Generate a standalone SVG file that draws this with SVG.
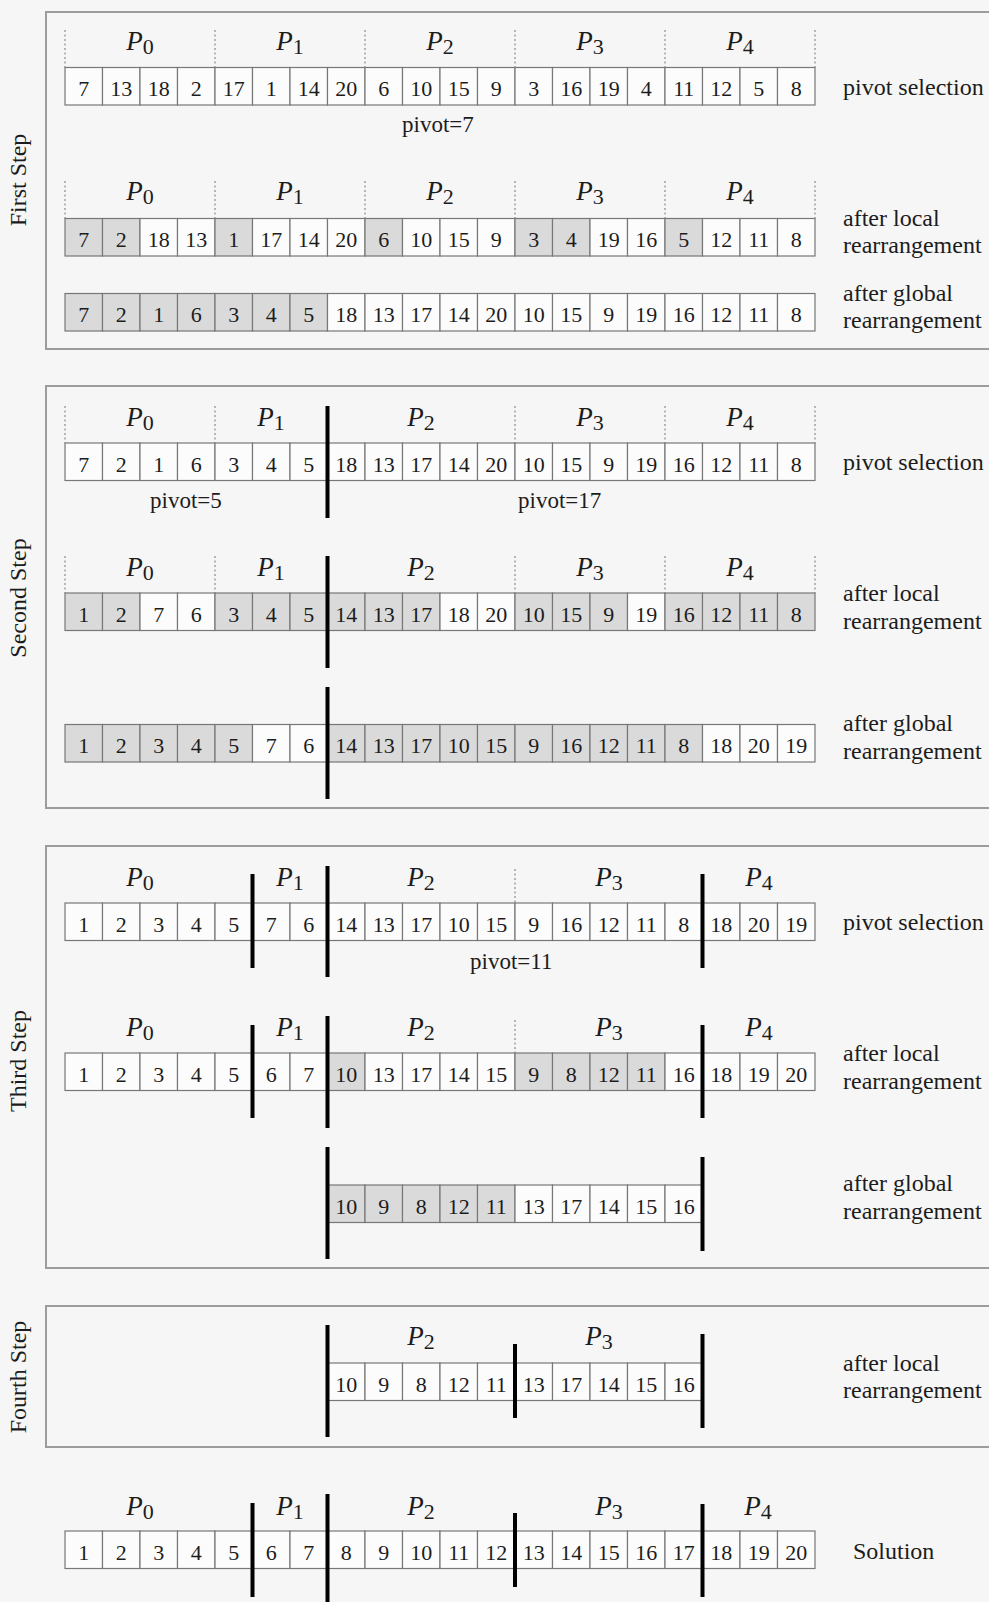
<svg xmlns="http://www.w3.org/2000/svg" width="989" height="1602" viewBox="0 0 989 1602">
<style>
text{font-family:"Liberation Serif","Times New Roman",serif;fill:#1c1c1c}
.frame{fill:none;stroke:#9c9c9c;stroke-width:2}
.c{fill:#fcfcfc;stroke:#777;stroke-width:1.2}
.g{fill:#dadada;stroke:#777;stroke-width:1.2}
.n{font-size:22px;text-anchor:middle}
.p{font-size:27px;font-style:italic;text-anchor:middle}
.p tspan{font-style:normal;font-size:22px}
.lbl{font-size:24px}
.piv{font-size:23px}
.side{font-size:24px;text-anchor:middle}
.dot{stroke:#8a8a8a;stroke-width:1.2;stroke-dasharray:2 2.5}
.bar{stroke:#000;stroke-width:4}
</style>
<rect x="0" y="0" width="989" height="1602" fill="#f6f6f6"/>

<g id="frames">
<rect class="frame" x="46" y="12" width="960" height="337"/>
<rect class="frame" x="46" y="386" width="960" height="422"/>
<rect class="frame" x="46" y="846" width="960" height="422"/>
<rect class="frame" x="46" y="1306" width="960" height="141"/>
</g>

<g id="side-labels">
<text class="side" transform="translate(26,180) rotate(-90)">First Step</text>
<text class="side" transform="translate(26,598) rotate(-90)">Second Step</text>
<text class="side" transform="translate(26,1061) rotate(-90)">Third Step</text>
<text class="side" transform="translate(26,1377) rotate(-90)">Fourth Step</text>
</g>

<!-- STEP 1 -->
<g id="s1r1" transform="translate(0,67.5)">
<rect class="c" x="65" y="0" width="37.5" height="37.5"/><rect class="c" x="102.5" y="0" width="37.5" height="37.5"/><rect class="c" x="140" y="0" width="37.5" height="37.5"/><rect class="c" x="177.5" y="0" width="37.5" height="37.5"/><rect class="c" x="215" y="0" width="37.5" height="37.5"/><rect class="c" x="252.5" y="0" width="37.5" height="37.5"/><rect class="c" x="290" y="0" width="37.5" height="37.5"/><rect class="c" x="327.5" y="0" width="37.5" height="37.5"/><rect class="c" x="365" y="0" width="37.5" height="37.5"/><rect class="c" x="402.5" y="0" width="37.5" height="37.5"/><rect class="c" x="440" y="0" width="37.5" height="37.5"/><rect class="c" x="477.5" y="0" width="37.5" height="37.5"/><rect class="c" x="515" y="0" width="37.5" height="37.5"/><rect class="c" x="552.5" y="0" width="37.5" height="37.5"/><rect class="c" x="590" y="0" width="37.5" height="37.5"/><rect class="c" x="627.5" y="0" width="37.5" height="37.5"/><rect class="c" x="665" y="0" width="37.5" height="37.5"/><rect class="c" x="702.5" y="0" width="37.5" height="37.5"/><rect class="c" x="740" y="0" width="37.5" height="37.5"/><rect class="c" x="777.5" y="0" width="37.5" height="37.5"/>
<text class="n" x="83.75" y="28.5">7</text><text class="n" x="121.25" y="28.5">13</text><text class="n" x="158.75" y="28.5">18</text><text class="n" x="196.25" y="28.5">2</text><text class="n" x="233.75" y="28.5">17</text><text class="n" x="271.25" y="28.5">1</text><text class="n" x="308.75" y="28.5">14</text><text class="n" x="346.25" y="28.5">20</text><text class="n" x="383.75" y="28.5">6</text><text class="n" x="421.25" y="28.5">10</text><text class="n" x="458.75" y="28.5">15</text><text class="n" x="496.25" y="28.5">9</text><text class="n" x="533.75" y="28.5">3</text><text class="n" x="571.25" y="28.5">16</text><text class="n" x="608.75" y="28.5">19</text><text class="n" x="646.25" y="28.5">4</text><text class="n" x="683.75" y="28.5">11</text><text class="n" x="721.25" y="28.5">12</text><text class="n" x="758.75" y="28.5">5</text><text class="n" x="796.25" y="28.5">8</text>
</g>
<g id="s1r2" transform="translate(0,218.5)">
<rect class="g" x="65" y="0" width="37.5" height="37.5"/><rect class="g" x="102.5" y="0" width="37.5" height="37.5"/><rect class="c" x="140" y="0" width="37.5" height="37.5"/><rect class="c" x="177.5" y="0" width="37.5" height="37.5"/><rect class="g" x="215" y="0" width="37.5" height="37.5"/><rect class="c" x="252.5" y="0" width="37.5" height="37.5"/><rect class="c" x="290" y="0" width="37.5" height="37.5"/><rect class="c" x="327.5" y="0" width="37.5" height="37.5"/><rect class="g" x="365" y="0" width="37.5" height="37.5"/><rect class="c" x="402.5" y="0" width="37.5" height="37.5"/><rect class="c" x="440" y="0" width="37.5" height="37.5"/><rect class="c" x="477.5" y="0" width="37.5" height="37.5"/><rect class="g" x="515" y="0" width="37.5" height="37.5"/><rect class="g" x="552.5" y="0" width="37.5" height="37.5"/><rect class="c" x="590" y="0" width="37.5" height="37.5"/><rect class="c" x="627.5" y="0" width="37.5" height="37.5"/><rect class="g" x="665" y="0" width="37.5" height="37.5"/><rect class="c" x="702.5" y="0" width="37.5" height="37.5"/><rect class="c" x="740" y="0" width="37.5" height="37.5"/><rect class="c" x="777.5" y="0" width="37.5" height="37.5"/>
<text class="n" x="83.75" y="28.5">7</text><text class="n" x="121.25" y="28.5">2</text><text class="n" x="158.75" y="28.5">18</text><text class="n" x="196.25" y="28.5">13</text><text class="n" x="233.75" y="28.5">1</text><text class="n" x="271.25" y="28.5">17</text><text class="n" x="308.75" y="28.5">14</text><text class="n" x="346.25" y="28.5">20</text><text class="n" x="383.75" y="28.5">6</text><text class="n" x="421.25" y="28.5">10</text><text class="n" x="458.75" y="28.5">15</text><text class="n" x="496.25" y="28.5">9</text><text class="n" x="533.75" y="28.5">3</text><text class="n" x="571.25" y="28.5">4</text><text class="n" x="608.75" y="28.5">19</text><text class="n" x="646.25" y="28.5">16</text><text class="n" x="683.75" y="28.5">5</text><text class="n" x="721.25" y="28.5">12</text><text class="n" x="758.75" y="28.5">11</text><text class="n" x="796.25" y="28.5">8</text>
</g>
<g id="s1r3" transform="translate(0,293.5)">
<rect class="g" x="65" y="0" width="37.5" height="37.5"/><rect class="g" x="102.5" y="0" width="37.5" height="37.5"/><rect class="g" x="140" y="0" width="37.5" height="37.5"/><rect class="g" x="177.5" y="0" width="37.5" height="37.5"/><rect class="g" x="215" y="0" width="37.5" height="37.5"/><rect class="g" x="252.5" y="0" width="37.5" height="37.5"/><rect class="g" x="290" y="0" width="37.5" height="37.5"/><rect class="c" x="327.5" y="0" width="37.5" height="37.5"/><rect class="c" x="365" y="0" width="37.5" height="37.5"/><rect class="c" x="402.5" y="0" width="37.5" height="37.5"/><rect class="c" x="440" y="0" width="37.5" height="37.5"/><rect class="c" x="477.5" y="0" width="37.5" height="37.5"/><rect class="c" x="515" y="0" width="37.5" height="37.5"/><rect class="c" x="552.5" y="0" width="37.5" height="37.5"/><rect class="c" x="590" y="0" width="37.5" height="37.5"/><rect class="c" x="627.5" y="0" width="37.5" height="37.5"/><rect class="c" x="665" y="0" width="37.5" height="37.5"/><rect class="c" x="702.5" y="0" width="37.5" height="37.5"/><rect class="c" x="740" y="0" width="37.5" height="37.5"/><rect class="c" x="777.5" y="0" width="37.5" height="37.5"/>
<text class="n" x="83.75" y="28.5">7</text><text class="n" x="121.25" y="28.5">2</text><text class="n" x="158.75" y="28.5">1</text><text class="n" x="196.25" y="28.5">6</text><text class="n" x="233.75" y="28.5">3</text><text class="n" x="271.25" y="28.5">4</text><text class="n" x="308.75" y="28.5">5</text><text class="n" x="346.25" y="28.5">18</text><text class="n" x="383.75" y="28.5">13</text><text class="n" x="421.25" y="28.5">17</text><text class="n" x="458.75" y="28.5">14</text><text class="n" x="496.25" y="28.5">20</text><text class="n" x="533.75" y="28.5">10</text><text class="n" x="571.25" y="28.5">15</text><text class="n" x="608.75" y="28.5">9</text><text class="n" x="646.25" y="28.5">19</text><text class="n" x="683.75" y="28.5">16</text><text class="n" x="721.25" y="28.5">12</text><text class="n" x="758.75" y="28.5">11</text><text class="n" x="796.25" y="28.5">8</text>
</g>
<g id="s1-labels">
<text class="p" x="140" y="50">P<tspan dy="4">0</tspan></text><text class="p" x="290" y="50">P<tspan dy="4">1</tspan></text><text class="p" x="440" y="50">P<tspan dy="4">2</tspan></text><text class="p" x="590" y="50">P<tspan dy="4">3</tspan></text><text class="p" x="740" y="50">P<tspan dy="4">4</tspan></text>
<text class="p" x="140" y="200">P<tspan dy="4">0</tspan></text><text class="p" x="290" y="200">P<tspan dy="4">1</tspan></text><text class="p" x="440" y="200">P<tspan dy="4">2</tspan></text><text class="p" x="590" y="200">P<tspan dy="4">3</tspan></text><text class="p" x="740" y="200">P<tspan dy="4">4</tspan></text>
<text class="piv" x="402" y="132">pivot=7</text>
<text class="lbl" x="843" y="95">pivot selection</text>
<text class="lbl" x="843" y="226">after local</text><text class="lbl" x="843" y="253">rearrangement</text>
<text class="lbl" x="843" y="301">after global</text><text class="lbl" x="843" y="328">rearrangement</text>
</g>

<!-- STEP 2 -->
<g id="s2r1" transform="translate(0,443)">
<rect class="c" x="65" y="0" width="37.5" height="37.5"/><rect class="c" x="102.5" y="0" width="37.5" height="37.5"/><rect class="c" x="140" y="0" width="37.5" height="37.5"/><rect class="c" x="177.5" y="0" width="37.5" height="37.5"/><rect class="c" x="215" y="0" width="37.5" height="37.5"/><rect class="c" x="252.5" y="0" width="37.5" height="37.5"/><rect class="c" x="290" y="0" width="37.5" height="37.5"/><rect class="c" x="327.5" y="0" width="37.5" height="37.5"/><rect class="c" x="365" y="0" width="37.5" height="37.5"/><rect class="c" x="402.5" y="0" width="37.5" height="37.5"/><rect class="c" x="440" y="0" width="37.5" height="37.5"/><rect class="c" x="477.5" y="0" width="37.5" height="37.5"/><rect class="c" x="515" y="0" width="37.5" height="37.5"/><rect class="c" x="552.5" y="0" width="37.5" height="37.5"/><rect class="c" x="590" y="0" width="37.5" height="37.5"/><rect class="c" x="627.5" y="0" width="37.5" height="37.5"/><rect class="c" x="665" y="0" width="37.5" height="37.5"/><rect class="c" x="702.5" y="0" width="37.5" height="37.5"/><rect class="c" x="740" y="0" width="37.5" height="37.5"/><rect class="c" x="777.5" y="0" width="37.5" height="37.5"/>
<text class="n" x="83.75" y="28.5">7</text><text class="n" x="121.25" y="28.5">2</text><text class="n" x="158.75" y="28.5">1</text><text class="n" x="196.25" y="28.5">6</text><text class="n" x="233.75" y="28.5">3</text><text class="n" x="271.25" y="28.5">4</text><text class="n" x="308.75" y="28.5">5</text><text class="n" x="346.25" y="28.5">18</text><text class="n" x="383.75" y="28.5">13</text><text class="n" x="421.25" y="28.5">17</text><text class="n" x="458.75" y="28.5">14</text><text class="n" x="496.25" y="28.5">20</text><text class="n" x="533.75" y="28.5">10</text><text class="n" x="571.25" y="28.5">15</text><text class="n" x="608.75" y="28.5">9</text><text class="n" x="646.25" y="28.5">19</text><text class="n" x="683.75" y="28.5">16</text><text class="n" x="721.25" y="28.5">12</text><text class="n" x="758.75" y="28.5">11</text><text class="n" x="796.25" y="28.5">8</text>
</g>
<g id="s2r2" transform="translate(0,593)">
<rect class="g" x="65" y="0" width="37.5" height="37.5"/><rect class="g" x="102.5" y="0" width="37.5" height="37.5"/><rect class="c" x="140" y="0" width="37.5" height="37.5"/><rect class="c" x="177.5" y="0" width="37.5" height="37.5"/><rect class="g" x="215" y="0" width="37.5" height="37.5"/><rect class="g" x="252.5" y="0" width="37.5" height="37.5"/><rect class="g" x="290" y="0" width="37.5" height="37.5"/><rect class="g" x="327.5" y="0" width="37.5" height="37.5"/><rect class="g" x="365" y="0" width="37.5" height="37.5"/><rect class="g" x="402.5" y="0" width="37.5" height="37.5"/><rect class="c" x="440" y="0" width="37.5" height="37.5"/><rect class="c" x="477.5" y="0" width="37.5" height="37.5"/><rect class="g" x="515" y="0" width="37.5" height="37.5"/><rect class="g" x="552.5" y="0" width="37.5" height="37.5"/><rect class="g" x="590" y="0" width="37.5" height="37.5"/><rect class="c" x="627.5" y="0" width="37.5" height="37.5"/><rect class="g" x="665" y="0" width="37.5" height="37.5"/><rect class="g" x="702.5" y="0" width="37.5" height="37.5"/><rect class="g" x="740" y="0" width="37.5" height="37.5"/><rect class="g" x="777.5" y="0" width="37.5" height="37.5"/>
<text class="n" x="83.75" y="28.5">1</text><text class="n" x="121.25" y="28.5">2</text><text class="n" x="158.75" y="28.5">7</text><text class="n" x="196.25" y="28.5">6</text><text class="n" x="233.75" y="28.5">3</text><text class="n" x="271.25" y="28.5">4</text><text class="n" x="308.75" y="28.5">5</text><text class="n" x="346.25" y="28.5">14</text><text class="n" x="383.75" y="28.5">13</text><text class="n" x="421.25" y="28.5">17</text><text class="n" x="458.75" y="28.5">18</text><text class="n" x="496.25" y="28.5">20</text><text class="n" x="533.75" y="28.5">10</text><text class="n" x="571.25" y="28.5">15</text><text class="n" x="608.75" y="28.5">9</text><text class="n" x="646.25" y="28.5">19</text><text class="n" x="683.75" y="28.5">16</text><text class="n" x="721.25" y="28.5">12</text><text class="n" x="758.75" y="28.5">11</text><text class="n" x="796.25" y="28.5">8</text>
</g>
<g id="s2r3" transform="translate(0,724.5)">
<rect class="g" x="65" y="0" width="37.5" height="37.5"/><rect class="g" x="102.5" y="0" width="37.5" height="37.5"/><rect class="g" x="140" y="0" width="37.5" height="37.5"/><rect class="g" x="177.5" y="0" width="37.5" height="37.5"/><rect class="g" x="215" y="0" width="37.5" height="37.5"/><rect class="c" x="252.5" y="0" width="37.5" height="37.5"/><rect class="c" x="290" y="0" width="37.5" height="37.5"/><rect class="g" x="327.5" y="0" width="37.5" height="37.5"/><rect class="g" x="365" y="0" width="37.5" height="37.5"/><rect class="g" x="402.5" y="0" width="37.5" height="37.5"/><rect class="g" x="440" y="0" width="37.5" height="37.5"/><rect class="g" x="477.5" y="0" width="37.5" height="37.5"/><rect class="g" x="515" y="0" width="37.5" height="37.5"/><rect class="g" x="552.5" y="0" width="37.5" height="37.5"/><rect class="g" x="590" y="0" width="37.5" height="37.5"/><rect class="g" x="627.5" y="0" width="37.5" height="37.5"/><rect class="g" x="665" y="0" width="37.5" height="37.5"/><rect class="c" x="702.5" y="0" width="37.5" height="37.5"/><rect class="c" x="740" y="0" width="37.5" height="37.5"/><rect class="c" x="777.5" y="0" width="37.5" height="37.5"/>
<text class="n" x="83.75" y="28.5">1</text><text class="n" x="121.25" y="28.5">2</text><text class="n" x="158.75" y="28.5">3</text><text class="n" x="196.25" y="28.5">4</text><text class="n" x="233.75" y="28.5">5</text><text class="n" x="271.25" y="28.5">7</text><text class="n" x="308.75" y="28.5">6</text><text class="n" x="346.25" y="28.5">14</text><text class="n" x="383.75" y="28.5">13</text><text class="n" x="421.25" y="28.5">17</text><text class="n" x="458.75" y="28.5">10</text><text class="n" x="496.25" y="28.5">15</text><text class="n" x="533.75" y="28.5">9</text><text class="n" x="571.25" y="28.5">16</text><text class="n" x="608.75" y="28.5">12</text><text class="n" x="646.25" y="28.5">11</text><text class="n" x="683.75" y="28.5">8</text><text class="n" x="721.25" y="28.5">18</text><text class="n" x="758.75" y="28.5">20</text><text class="n" x="796.25" y="28.5">19</text>
</g>
<g id="s2-labels">
<text class="p" x="140" y="426">P<tspan dy="4">0</tspan></text><text class="p" x="271" y="426">P<tspan dy="4">1</tspan></text><text class="p" x="421" y="426">P<tspan dy="4">2</tspan></text><text class="p" x="590" y="426">P<tspan dy="4">3</tspan></text><text class="p" x="740" y="426">P<tspan dy="4">4</tspan></text>
<text class="p" x="140" y="576">P<tspan dy="4">0</tspan></text><text class="p" x="271" y="576">P<tspan dy="4">1</tspan></text><text class="p" x="421" y="576">P<tspan dy="4">2</tspan></text><text class="p" x="590" y="576">P<tspan dy="4">3</tspan></text><text class="p" x="740" y="576">P<tspan dy="4">4</tspan></text>
<text class="piv" x="150" y="508">pivot=5</text>
<text class="piv" x="518" y="508">pivot=17</text>
<text class="lbl" x="843" y="470">pivot selection</text>
<text class="lbl" x="843" y="601">after local</text><text class="lbl" x="843" y="629">rearrangement</text>
<text class="lbl" x="843" y="731">after global</text><text class="lbl" x="843" y="759">rearrangement</text>
</g>

<!-- STEP 3 -->
<g id="s3r1" transform="translate(0,903)">
<rect class="c" x="65" y="0" width="37.5" height="37.5"/><rect class="c" x="102.5" y="0" width="37.5" height="37.5"/><rect class="c" x="140" y="0" width="37.5" height="37.5"/><rect class="c" x="177.5" y="0" width="37.5" height="37.5"/><rect class="c" x="215" y="0" width="37.5" height="37.5"/><rect class="c" x="252.5" y="0" width="37.5" height="37.5"/><rect class="c" x="290" y="0" width="37.5" height="37.5"/><rect class="c" x="327.5" y="0" width="37.5" height="37.5"/><rect class="c" x="365" y="0" width="37.5" height="37.5"/><rect class="c" x="402.5" y="0" width="37.5" height="37.5"/><rect class="c" x="440" y="0" width="37.5" height="37.5"/><rect class="c" x="477.5" y="0" width="37.5" height="37.5"/><rect class="c" x="515" y="0" width="37.5" height="37.5"/><rect class="c" x="552.5" y="0" width="37.5" height="37.5"/><rect class="c" x="590" y="0" width="37.5" height="37.5"/><rect class="c" x="627.5" y="0" width="37.5" height="37.5"/><rect class="c" x="665" y="0" width="37.5" height="37.5"/><rect class="c" x="702.5" y="0" width="37.5" height="37.5"/><rect class="c" x="740" y="0" width="37.5" height="37.5"/><rect class="c" x="777.5" y="0" width="37.5" height="37.5"/>
<text class="n" x="83.75" y="28.5">1</text><text class="n" x="121.25" y="28.5">2</text><text class="n" x="158.75" y="28.5">3</text><text class="n" x="196.25" y="28.5">4</text><text class="n" x="233.75" y="28.5">5</text><text class="n" x="271.25" y="28.5">7</text><text class="n" x="308.75" y="28.5">6</text><text class="n" x="346.25" y="28.5">14</text><text class="n" x="383.75" y="28.5">13</text><text class="n" x="421.25" y="28.5">17</text><text class="n" x="458.75" y="28.5">10</text><text class="n" x="496.25" y="28.5">15</text><text class="n" x="533.75" y="28.5">9</text><text class="n" x="571.25" y="28.5">16</text><text class="n" x="608.75" y="28.5">12</text><text class="n" x="646.25" y="28.5">11</text><text class="n" x="683.75" y="28.5">8</text><text class="n" x="721.25" y="28.5">18</text><text class="n" x="758.75" y="28.5">20</text><text class="n" x="796.25" y="28.5">19</text>
</g>
<g id="s3r2" transform="translate(0,1053)">
<rect class="c" x="65" y="0" width="37.5" height="37.5"/><rect class="c" x="102.5" y="0" width="37.5" height="37.5"/><rect class="c" x="140" y="0" width="37.5" height="37.5"/><rect class="c" x="177.5" y="0" width="37.5" height="37.5"/><rect class="c" x="215" y="0" width="37.5" height="37.5"/><rect class="c" x="252.5" y="0" width="37.5" height="37.5"/><rect class="c" x="290" y="0" width="37.5" height="37.5"/><rect class="g" x="327.5" y="0" width="37.5" height="37.5"/><rect class="c" x="365" y="0" width="37.5" height="37.5"/><rect class="c" x="402.5" y="0" width="37.5" height="37.5"/><rect class="c" x="440" y="0" width="37.5" height="37.5"/><rect class="c" x="477.5" y="0" width="37.5" height="37.5"/><rect class="g" x="515" y="0" width="37.5" height="37.5"/><rect class="g" x="552.5" y="0" width="37.5" height="37.5"/><rect class="g" x="590" y="0" width="37.5" height="37.5"/><rect class="g" x="627.5" y="0" width="37.5" height="37.5"/><rect class="c" x="665" y="0" width="37.5" height="37.5"/><rect class="c" x="702.5" y="0" width="37.5" height="37.5"/><rect class="c" x="740" y="0" width="37.5" height="37.5"/><rect class="c" x="777.5" y="0" width="37.5" height="37.5"/>
<text class="n" x="83.75" y="28.5">1</text><text class="n" x="121.25" y="28.5">2</text><text class="n" x="158.75" y="28.5">3</text><text class="n" x="196.25" y="28.5">4</text><text class="n" x="233.75" y="28.5">5</text><text class="n" x="271.25" y="28.5">6</text><text class="n" x="308.75" y="28.5">7</text><text class="n" x="346.25" y="28.5">10</text><text class="n" x="383.75" y="28.5">13</text><text class="n" x="421.25" y="28.5">17</text><text class="n" x="458.75" y="28.5">14</text><text class="n" x="496.25" y="28.5">15</text><text class="n" x="533.75" y="28.5">9</text><text class="n" x="571.25" y="28.5">8</text><text class="n" x="608.75" y="28.5">12</text><text class="n" x="646.25" y="28.5">11</text><text class="n" x="683.75" y="28.5">16</text><text class="n" x="721.25" y="28.5">18</text><text class="n" x="758.75" y="28.5">19</text><text class="n" x="796.25" y="28.5">20</text>
</g>
<g id="s3r3" transform="translate(0,1185)">
<rect class="g" x="327.5" y="0" width="37.5" height="37.5"/><rect class="g" x="365" y="0" width="37.5" height="37.5"/><rect class="g" x="402.5" y="0" width="37.5" height="37.5"/><rect class="g" x="440" y="0" width="37.5" height="37.5"/><rect class="g" x="477.5" y="0" width="37.5" height="37.5"/><rect class="c" x="515" y="0" width="37.5" height="37.5"/><rect class="c" x="552.5" y="0" width="37.5" height="37.5"/><rect class="c" x="590" y="0" width="37.5" height="37.5"/><rect class="c" x="627.5" y="0" width="37.5" height="37.5"/><rect class="c" x="665" y="0" width="37.5" height="37.5"/>
<text class="n" x="346.25" y="28.5">10</text><text class="n" x="383.75" y="28.5">9</text><text class="n" x="421.25" y="28.5">8</text><text class="n" x="458.75" y="28.5">12</text><text class="n" x="496.25" y="28.5">11</text><text class="n" x="533.75" y="28.5">13</text><text class="n" x="571.25" y="28.5">17</text><text class="n" x="608.75" y="28.5">14</text><text class="n" x="646.25" y="28.5">15</text><text class="n" x="683.75" y="28.5">16</text>
</g>
<g id="s3-labels">
<text class="p" x="140" y="886">P<tspan dy="4">0</tspan></text><text class="p" x="290" y="886">P<tspan dy="4">1</tspan></text><text class="p" x="421" y="886">P<tspan dy="4">2</tspan></text><text class="p" x="609" y="886">P<tspan dy="4">3</tspan></text><text class="p" x="759" y="886">P<tspan dy="4">4</tspan></text>
<text class="p" x="140" y="1036">P<tspan dy="4">0</tspan></text><text class="p" x="290" y="1036">P<tspan dy="4">1</tspan></text><text class="p" x="421" y="1036">P<tspan dy="4">2</tspan></text><text class="p" x="609" y="1036">P<tspan dy="4">3</tspan></text><text class="p" x="759" y="1036">P<tspan dy="4">4</tspan></text>
<text class="piv" x="470" y="969">pivot=11</text>
<text class="lbl" x="843" y="930">pivot selection</text>
<text class="lbl" x="843" y="1061">after local</text><text class="lbl" x="843" y="1089">rearrangement</text>
<text class="lbl" x="843" y="1191">after global</text><text class="lbl" x="843" y="1219">rearrangement</text>
</g>

<!-- STEP 4 -->
<g id="s4r1" transform="translate(0,1363)">
<rect class="c" x="327.5" y="0" width="37.5" height="37.5"/><rect class="c" x="365" y="0" width="37.5" height="37.5"/><rect class="c" x="402.5" y="0" width="37.5" height="37.5"/><rect class="c" x="440" y="0" width="37.5" height="37.5"/><rect class="c" x="477.5" y="0" width="37.5" height="37.5"/><rect class="c" x="515" y="0" width="37.5" height="37.5"/><rect class="c" x="552.5" y="0" width="37.5" height="37.5"/><rect class="c" x="590" y="0" width="37.5" height="37.5"/><rect class="c" x="627.5" y="0" width="37.5" height="37.5"/><rect class="c" x="665" y="0" width="37.5" height="37.5"/>
<text class="n" x="346.25" y="28.5">10</text><text class="n" x="383.75" y="28.5">9</text><text class="n" x="421.25" y="28.5">8</text><text class="n" x="458.75" y="28.5">12</text><text class="n" x="496.25" y="28.5">11</text><text class="n" x="533.75" y="28.5">13</text><text class="n" x="571.25" y="28.5">17</text><text class="n" x="608.75" y="28.5">14</text><text class="n" x="646.25" y="28.5">15</text><text class="n" x="683.75" y="28.5">16</text>
</g>
<g id="s4-labels">
<text class="p" x="421" y="1345">P<tspan dy="4">2</tspan></text><text class="p" x="599" y="1345">P<tspan dy="4">3</tspan></text>
<text class="lbl" x="843" y="1371">after local</text><text class="lbl" x="843" y="1398">rearrangement</text>
</g>

<!-- SOLUTION -->
<g id="solution" transform="translate(0,1531)">
<rect class="c" x="65" y="0" width="37.5" height="37.5"/><rect class="c" x="102.5" y="0" width="37.5" height="37.5"/><rect class="c" x="140" y="0" width="37.5" height="37.5"/><rect class="c" x="177.5" y="0" width="37.5" height="37.5"/><rect class="c" x="215" y="0" width="37.5" height="37.5"/><rect class="c" x="252.5" y="0" width="37.5" height="37.5"/><rect class="c" x="290" y="0" width="37.5" height="37.5"/><rect class="c" x="327.5" y="0" width="37.5" height="37.5"/><rect class="c" x="365" y="0" width="37.5" height="37.5"/><rect class="c" x="402.5" y="0" width="37.5" height="37.5"/><rect class="c" x="440" y="0" width="37.5" height="37.5"/><rect class="c" x="477.5" y="0" width="37.5" height="37.5"/><rect class="c" x="515" y="0" width="37.5" height="37.5"/><rect class="c" x="552.5" y="0" width="37.5" height="37.5"/><rect class="c" x="590" y="0" width="37.5" height="37.5"/><rect class="c" x="627.5" y="0" width="37.5" height="37.5"/><rect class="c" x="665" y="0" width="37.5" height="37.5"/><rect class="c" x="702.5" y="0" width="37.5" height="37.5"/><rect class="c" x="740" y="0" width="37.5" height="37.5"/><rect class="c" x="777.5" y="0" width="37.5" height="37.5"/>
<text class="n" x="83.75" y="28.5">1</text><text class="n" x="121.25" y="28.5">2</text><text class="n" x="158.75" y="28.5">3</text><text class="n" x="196.25" y="28.5">4</text><text class="n" x="233.75" y="28.5">5</text><text class="n" x="271.25" y="28.5">6</text><text class="n" x="308.75" y="28.5">7</text><text class="n" x="346.25" y="28.5">8</text><text class="n" x="383.75" y="28.5">9</text><text class="n" x="421.25" y="28.5">10</text><text class="n" x="458.75" y="28.5">11</text><text class="n" x="496.25" y="28.5">12</text><text class="n" x="533.75" y="28.5">13</text><text class="n" x="571.25" y="28.5">14</text><text class="n" x="608.75" y="28.5">15</text><text class="n" x="646.25" y="28.5">16</text><text class="n" x="683.75" y="28.5">17</text><text class="n" x="721.25" y="28.5">18</text><text class="n" x="758.75" y="28.5">19</text><text class="n" x="796.25" y="28.5">20</text>
</g>
<g id="solution-labels">
<text class="p" x="140" y="1515">P<tspan dy="4">0</tspan></text><text class="p" x="290" y="1515">P<tspan dy="4">1</tspan></text><text class="p" x="421" y="1515">P<tspan dy="4">2</tspan></text><text class="p" x="609" y="1515">P<tspan dy="4">3</tspan></text><text class="p" x="758" y="1515">P<tspan dy="4">4</tspan></text>
<text class="lbl" x="853" y="1559">Solution</text>
</g>

<g id="connectors">
<path class="dot" d="M65 30V67.5M215 30V67.5M365 30V67.5M515 30V67.5M665 30V67.5M815 30V67.5M65 181V218.5M215 181V218.5M365 181V218.5M515 181V218.5M665 181V218.5M815 181V218.5"/>
<path class="dot" d="M65 406V443M215 406V443M515 406V443M665 406V443M815 406V443M65 556V593M215 556V593M515 556V593M665 556V593M815 556V593"/>
<path class="dot" d="M515 869V903M515 1020V1053"/>
<path class="bar" d="M327.5 406V518M327.5 556V668M327.5 687V799"/>
<path class="bar" d="M252.5 874V968M327.5 866V977M702.5 874V968M252.5 1025V1118M327.5 1016V1128M702.5 1025V1118M327.5 1147V1259M702.5 1157V1251"/>
<path class="bar" d="M327.5 1325V1437M515 1344V1418M702.5 1334V1428"/>
<path class="bar" d="M252.5 1503V1597M327.5 1494V1610M515 1513V1587M702.5 1504V1597"/>
</g>
</svg>
